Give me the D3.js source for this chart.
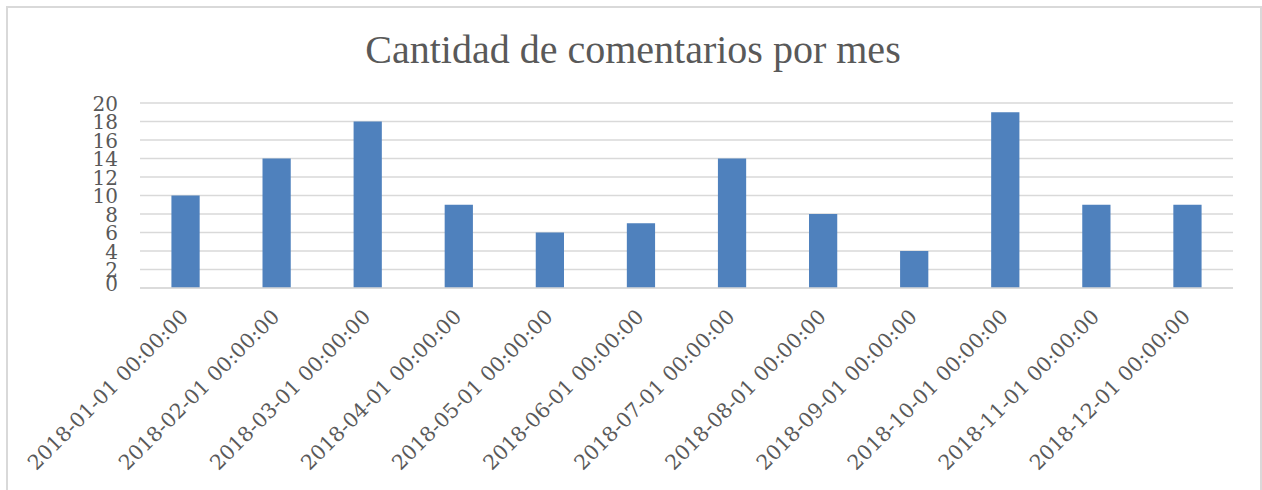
<!DOCTYPE html>
<html>
<head>
<meta charset="utf-8">
<script src="https://cdn.jsdelivr.net/npm/d3@7"></script>
<style>
  body { margin: 0; background: #fff; }
  svg text { font-family: "DejaVu Serif", serif; fill: #595959; }
</style>
</head>
<body>
<svg id="chart"></svg>
<script>
// datos
var months = ["2018-01-01 00:00:00", "2018-02-01 00:00:00", "2018-03-01 00:00:00",
  "2018-04-01 00:00:00", "2018-05-01 00:00:00", "2018-06-01 00:00:00",
  "2018-07-01 00:00:00", "2018-08-01 00:00:00", "2018-09-01 00:00:00",
  "2018-10-01 00:00:00", "2018-11-01 00:00:00", "2018-12-01 00:00:00"];
var comments = [10, 14, 18, 9, 6, 7, 14, 8, 4, 19, 9, 9];
var yTicks = [0, 2, 4, 6, 8, 10, 12, 14, 16, 18, 20];
var title = "Cantidad de comentarios por mes";

var width = 1262
var height = 490

var svg = d3.select("#chart")
  .attr("width", width)
  .attr("height", height);

// marco del area del grafico
svg.append("rect")
  .attr("x", 7)
  .attr("y", 7)
  .attr("width", 1254)
  .attr("height", 500)
  .attr("fill", "none")
  .attr("stroke", "#d9d9d9")
  .attr("stroke-width", 2);

svg.append("text")
  .attr("x", 633)
  .attr("y", 63)
  .style("text-anchor", "middle")
  .style("font-family", "\"Liberation Serif\", serif")
  .style("font-size", "40px")
  .text(title);

var xScale = d3.scaleBand()
  .domain(months)
  .range([140, 1233])
  .paddingInner(0.69)
  .paddingOuter(0.345);

var yScale = d3.scaleLinear()
  .domain([0, 20])
  .range([288, 103]);

// lineas de cuadricula
svg.append("g")
  .selectAll("line")
  .data(yTicks)
  .enter()
  .append("line")
  .attr("x1", 140)
  .attr("x2", 1233)
  .attr("y1", function(d) { return yScale(d); })
  .attr("y2", function(d) { return yScale(d); })
  .attr("stroke", "#d9d9d9")
  .attr("stroke-width", 1.6);

var yAxis = svg.append("g")
  .attr("transform", "translate(118,0)")
  .call(d3.axisLeft(yScale).tickValues(yTicks).tickSize(0).tickPadding(0));
yAxis.select(".domain").remove();
yAxis.selectAll("text")
  .attr("fill", "#595959")
  .style("font-size", "20px")
  .style("font-family", "\"DejaVu Serif\", serif")
  .attr("dy", function(d) { return d === 0 ? "0.1em" : "0.36em"; });

svg.append("g")
  .selectAll("rect")
  .data(comments)
  .enter()
  .append("rect")
  .attr("x", function(d, i) { return xScale(months[i]); })
  .attr("y", function(d) { return yScale(d); })
  .attr("width", xScale.bandwidth())
  .attr("height", function(d) { return yScale(0) - yScale(d); })
  .attr("fill", "#4f81bd");

// eje x
svg.append("line")
  .attr("x1", 140)
  .attr("x2", 1233)
  .attr("y1", yScale(0))
  .attr("y2", yScale(0))
  .attr("stroke", "#d9d9d9")
  .attr("stroke-width", 1.6);

svg.append("g")
  .selectAll("text")
  .data(months)
  .enter()
  .append("text")
  .attr("transform", function(d) {
    var cx = xScale(d) + xScale.bandwidth() / 2;
    return "translate(" + (cx + 4) + ",318) rotate(-45)";
  })
  .style("text-anchor", "end")
  .style("font-size", "20.5px")
  .text(function(d) { return d; });
</script>
</body>
</html>
